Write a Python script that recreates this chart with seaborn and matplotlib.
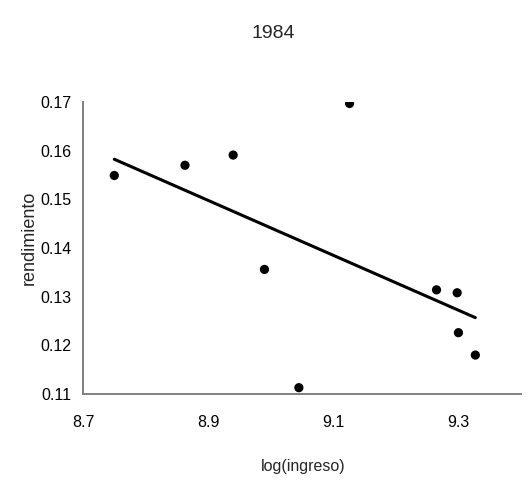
import numpy as np
import pandas as pd
import matplotlib
matplotlib.use("Agg")
import matplotlib.pyplot as plt
import seaborn as sns

# Log income vs. yield, 1984
log_ingreso = [8.750, 8.863, 8.940, 8.990, 9.045, 9.126, 9.265, 9.298, 9.300, 9.327]
rendimiento = [0.1549, 0.1570, 0.1591, 0.1356, 0.1113, 0.1697, 0.1314, 0.1308, 0.1226, 0.1180]

x_ticks = [8.7, 8.9, 9.1, 9.3]
y_ticks = [0.11, 0.12, 0.13, 0.14, 0.15, 0.16, 0.17]

df = pd.DataFrame({"log(ingreso)": log_ingreso, "rendimiento": rendimiento})

sns.set_style("white")
plt.rcParams["font.family"] = ["Liberation Sans", "DejaVu Sans"]

W, H = 529, 482
fig = plt.figure(figsize=(W / 100, H / 100), dpi=100)
ax = fig.add_axes([83 / W, 1 - 394 / H, 438 / W, 292 / H])

sns.regplot(data=df, x="log(ingreso)", y="rendimiento", ax=ax, ci=None,
            scatter_kws=dict(s=44, color="black", edgecolor="none", alpha=1),
            line_kws=dict(color="black", linewidth=2.2))

ax.set_xlim(8.7, 9.4)
ax.set_ylim(0.11, 0.17)
ax.set_xticks(x_ticks)
ax.set_xticklabels([f"{v:.1f}" for v in x_ticks])
ax.set_yticks(y_ticks)
ax.set_yticklabels([f"{v:.2f}" for v in y_ticks])

for side in ("top", "right"):
    ax.spines[side].set_visible(False)
for side in ("left", "bottom"):
    ax.spines[side].set_color("#808080")
    ax.spines[side].set_linewidth(1.4)
ax.tick_params(axis="both", which="both", direction="out", width=1.4,
               color="#808080", labelsize=11.5, labelcolor="black")
ax.tick_params(axis="x", length=4.3, pad=11)
ax.tick_params(axis="y", length=3, pad=5.5)

ax.set_xlabel("log(ingreso)", fontsize=11.5, va="center")
ax.xaxis.set_label_coords((303 - 83) / 438, (394 - 466) / 292)
ax.set_ylabel("rendimiento", fontsize=13, va="center")
ax.yaxis.set_label_coords((29 - 83) / 438, (394 - 237.5) / 292)
fig.text(273.5 / W, 1 - 34 / H, "1984", ha="center", va="center", fontsize=14)

fig.savefig("out.png", dpi=100)
